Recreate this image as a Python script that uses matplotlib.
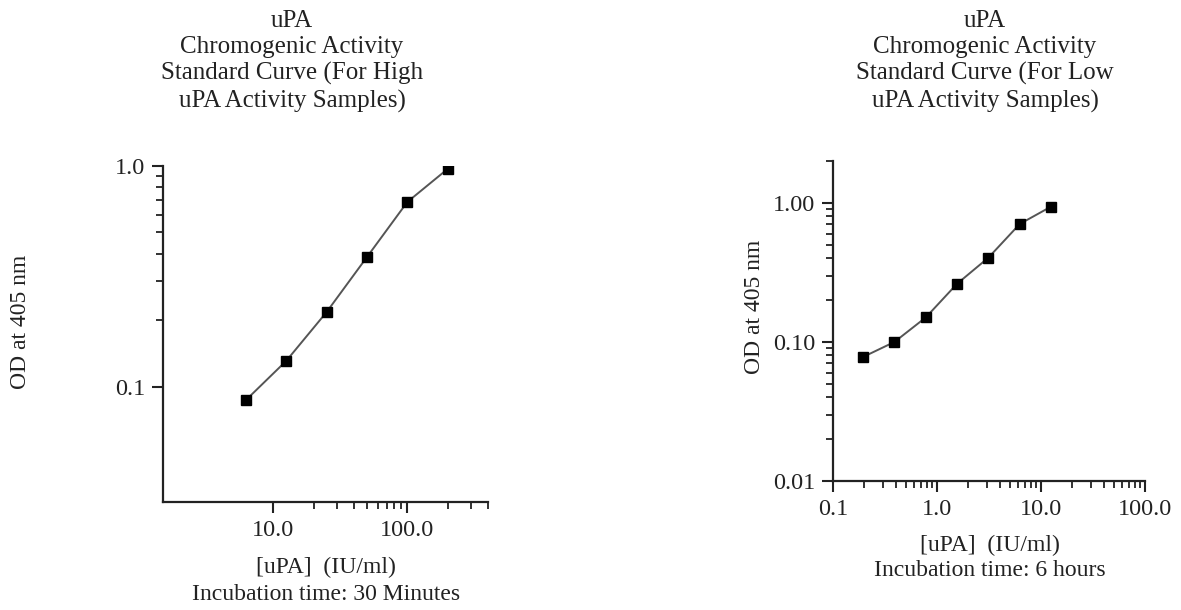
import matplotlib
matplotlib.use("Agg")
import matplotlib.pyplot as plt
import numpy as np

plt.rcParams['font.family'] = ['Liberation Serif', 'DejaVu Serif']

# datos
high_conc = [6.25, 12.5, 25, 50, 100, 200]
high_od = [0.087, 0.131, 0.218, 0.387, 0.687, 0.97]
low_conc = [0.195, 0.39, 0.78, 1.56, 3.125, 6.25, 12.5]
low_od = [0.078, 0.10, 0.15, 0.262, 0.404, 0.705, 0.94]

high_title = "uPA\nChromogenic Activity\nStandard Curve (For High\nuPA Activity Samples)"
low_title = "uPA\nChromogenic Activity\nStandard Curve (For Low\nuPA Activity Samples)"

W, H = 1181, 610
fig = plt.figure(figsize=(W / 100, H / 100), dpi=100)


def px_axes(x0, y0, x1, y1):
    # caja en pixeles (origen arriba a la izquierda)
    return fig.add_axes([x0 / W, 1 - y1 / H, (x1 - x0) / W, (y1 - y0) / H])


def style(ax):
    for s in ['top', 'right']:
        ax.spines[s].set_visible(False)
    for s in ['left', 'bottom']:
        ax.spines[s].set_linewidth(1.6)
        ax.spines[s].set_color('#222222')
    ax.tick_params(which='major', length=8, width=1.5, pad=5, labelsize=17.5, colors='#222222')
    ax.tick_params(which='minor', length=5, width=1.3, colors='#222222')


def curve(ax, x, y):
    ax.plot(x, y, color='#555555', lw=1.4, zorder=2)
    ax.plot(x, y, ls='none', marker='s', ms=6.5, color='black', zorder=3)


# panel izquierdo
ax1 = px_axes(163, 166, 488, 502)
ax1.set_xscale('log')
ax1.set_yscale('log')
curve(ax1, high_conc, high_od)
ax1.set_xlim(1.5, 400)
ax1.set_ylim(0.03, 1.0)
ax1.set_xticks([10, 100])
ax1.set_xticklabels(['10.0', '100.0'])
ax1.set_xticks([20, 30, 40, 50, 60, 70, 80, 90, 200, 300, 400], minor=True)
ax1.set_yticks([0.1, 1.0])
ax1.set_yticklabels(['0.1', '1.0'])
ax1.set_yticks([0.2, 0.3, 0.4, 0.5, 0.6, 0.7, 0.8, 0.9], minor=True)
ax1.xaxis.set_minor_formatter(plt.NullFormatter())
ax1.yaxis.set_minor_formatter(plt.NullFormatter())
style(ax1)

# panel derecho
ax2 = px_axes(833, 161, 1145, 481)
ax2.set_xscale('log')
ax2.set_yscale('log')
curve(ax2, low_conc, low_od)
ax2.set_xlim(0.1, 100)
ax2.set_ylim(0.01, 2.0)
ax2.set_xticks([0.1, 1, 10, 100])
ax2.set_xticklabels(['0.1', '1.0', '10.0', '100.0'])
ax2.set_xticks([m * d for d in [0.1, 1, 10] for m in range(2, 10)], minor=True)
ax2.set_yticks([0.01, 0.1, 1.0])
ax2.set_yticklabels(['0.01', '0.10', '1.00'])
ax2.set_yticks([m * d for d in [0.01, 0.1] for m in range(2, 10)] + [2.0], minor=True)
ax2.xaxis.set_minor_formatter(plt.NullFormatter())
ax2.yaxis.set_minor_formatter(plt.NullFormatter())
style(ax2)

txt = dict(color='#222222', ha='center')

# titulos
fig.text(292 / W, 1 - 10 / H, high_title, va='top', fontsize=18, linespacing=1.24, **txt)
fig.text(985 / W, 1 - 10 / H, low_title, va='top', fontsize=18, linespacing=1.24, **txt)

# etiquetas de ejes
fig.text(21 / W, 1 - 322 / H, 'OD at 405 nm', va='center', rotation=90, fontsize=17, **txt)
fig.text(755 / W, 1 - 307 / H, 'OD at 405 nm', va='center', rotation=90, fontsize=17, **txt)
fig.text(326 / W, 1 - 567 / H, '[uPA]  (IU/ml)', va='center', fontsize=17, **txt)
fig.text(326 / W, 1 - 594 / H, 'Incubation time: 30 Minutes', va='center', fontsize=17, **txt)
fig.text(990 / W, 1 - 545 / H, '[uPA]  (IU/ml)', va='center', fontsize=17, **txt)
fig.text(990 / W, 1 - 571 / H, 'Incubation time: 6 hours', va='center', fontsize=17, **txt)

fig.savefig('out.png', dpi=100)
